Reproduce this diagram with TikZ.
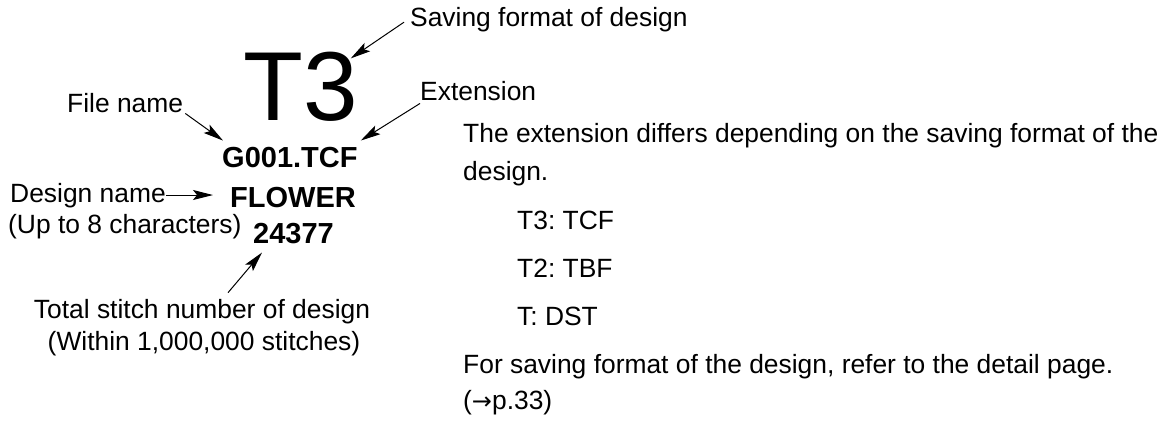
\documentclass[tikz,border=0pt]{standalone}
\usepackage{fontspec}
\setmainfont{Liberation Sans}
\newfontfamily\arrowfont{DejaVu Sans}
\frenchspacing
\usetikzlibrary{arrows.meta,calc}
\begin{document}
\begin{tikzpicture}[x=1pt,y=-1pt,
  txt/.style={inner sep=0pt,anchor=base west,font=\fontsize{26.4}{30}\selectfont},
  bld/.style={inner sep=0pt,anchor=base west,font=\fontsize{29}{33}\selectfont\bfseries},
  arr/.style={line width=1pt,-{Stealth[length=20pt,width=10pt,inset=4pt]}}]
\useasboundingbox (0,0) rectangle (1169,423);
% central label
\node[inner sep=0pt,anchor=base west,font=\fontsize{98}{100}\selectfont] (t3) at (243,120) {T3};
\node[bld] (g) at (222,167) {G001.TCF};
\node[bld] (flower) at (230,207) {FLOWER};
\node[bld] (num) at (253,243) {24377};
% callouts
\node[txt] (save) at (410,27) {Saving format of design};
\node[txt] (ext) at (420,100) {Extension};
\node[txt] (fname) at (67,112) {File name};
\node[txt] (dname) at (10,202) {Design name};
\node[txt] (upto) at (8,233) {(Up to 8 characters)};
\node[txt,anchor=base] (total) at (202,318) {Total stitch number of design};
\node[txt,anchor=base] (within) at (204,350) {(Within 1,000,000 stitches)};
% explanation
\node[txt] (p1) at (463,142) {The extension differs depending on the saving format of the};
\node[txt] (p2) at (463,180) {design.};
\node[txt] (l1) at (517,229) {T3: TCF};
\node[txt] (l2) at (517,277) {T2: TBF};
\node[txt] (l3) at (517,325) {T: DST};
\node[txt] (p4) at (463,373) {For saving format of the design, refer to the detail page.};
\node[txt] (p5) at (463,409) {({\arrowfont\fontsize{24}{28}\selectfont →}p.33)};
% arrows
\draw[arr] ($(save.west)+(-6,2)$) -- ($(t3.north east)+(-7,7)$);
\draw[arr] ($(ext.south west)+(0,3)$) -- ($(g.north east)+(3,-6)$);
\draw[arr] ($(fname.south east)+(2,1)$) -- ($(g.north west)+(1,-6)$);
\coordinate (dtip) at ($(flower.west)+(-17,-2)$);
\draw[arr] (dname.east |- dtip) -- (dtip);
\draw[arr] ($(total.north)+(26,-6)$) -- ($(num.south west)+(9,9)$);
\end{tikzpicture}
\end{document}
